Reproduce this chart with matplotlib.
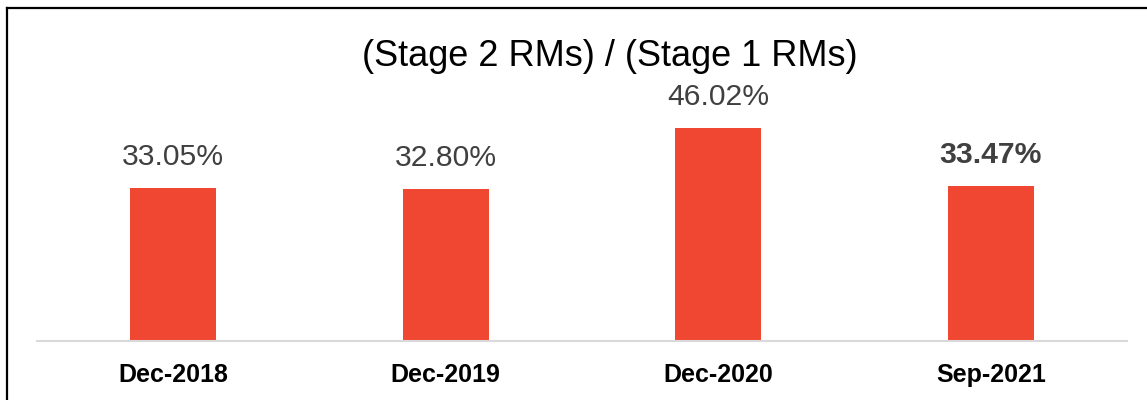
import matplotlib
matplotlib.use('Agg')
import matplotlib.pyplot as plt
from matplotlib.lines import Line2D

# data
categories = ['Dec-2018', 'Dec-2019', 'Dec-2020', 'Sep-2021']
values = [33.05, 32.80, 46.02, 33.47]
value_labels = ['33.05%', '32.80%', '46.02%', '33.47%']
title = '(Stage 2 RMs) / (Stage 1 RMs)'

plt.rcParams['font.family'] = ['Liberation Sans', 'DejaVu Sans']

fig = plt.figure(figsize=(11.47, 4.0), dpi=100)
ax = fig.add_axes([37/1147, 1 - 341/400, 1090/1147, 281/400])

x = list(range(len(categories)))
ax.bar(x, values, width=0.315, color='#F04733')
ax.set_xlim(-0.5, len(categories) - 0.5)
ax.set_ylim(0, 60.7)

for i, (v, lab) in enumerate(zip(values, value_labels)):
    ax.annotate(lab, (i, v), xytext=(0, 12), textcoords='offset points',
                ha='center', va='bottom', fontsize=21.7, color='#404040',
                fontweight='bold' if i == len(values) - 1 else 'normal')

ax.set_xticks(x)
ax.set_xticklabels(categories, fontsize=18, fontweight='bold', color='black')
ax.tick_params(axis='x', length=0, pad=16)
ax.set_yticks([])
for s in ['top', 'right', 'left']:
    ax.spines[s].set_visible(False)
ax.spines['bottom'].set_color('#D9D9D9')
ax.spines['bottom'].set_linewidth(1.5)

fig.text(610/1147, 1 - 56/400, title, ha='center', va='center', fontsize=26, color='black')

# frame around chart (left and top edges visible)
fig.add_artist(Line2D([7/1147, 7/1147], [0, 1 - 8/400], color='black', lw=1.6))
fig.add_artist(Line2D([7/1147, 1], [1 - 8/400, 1 - 8/400], color='black', lw=1.6))

fig.savefig('out.png', dpi=100)
